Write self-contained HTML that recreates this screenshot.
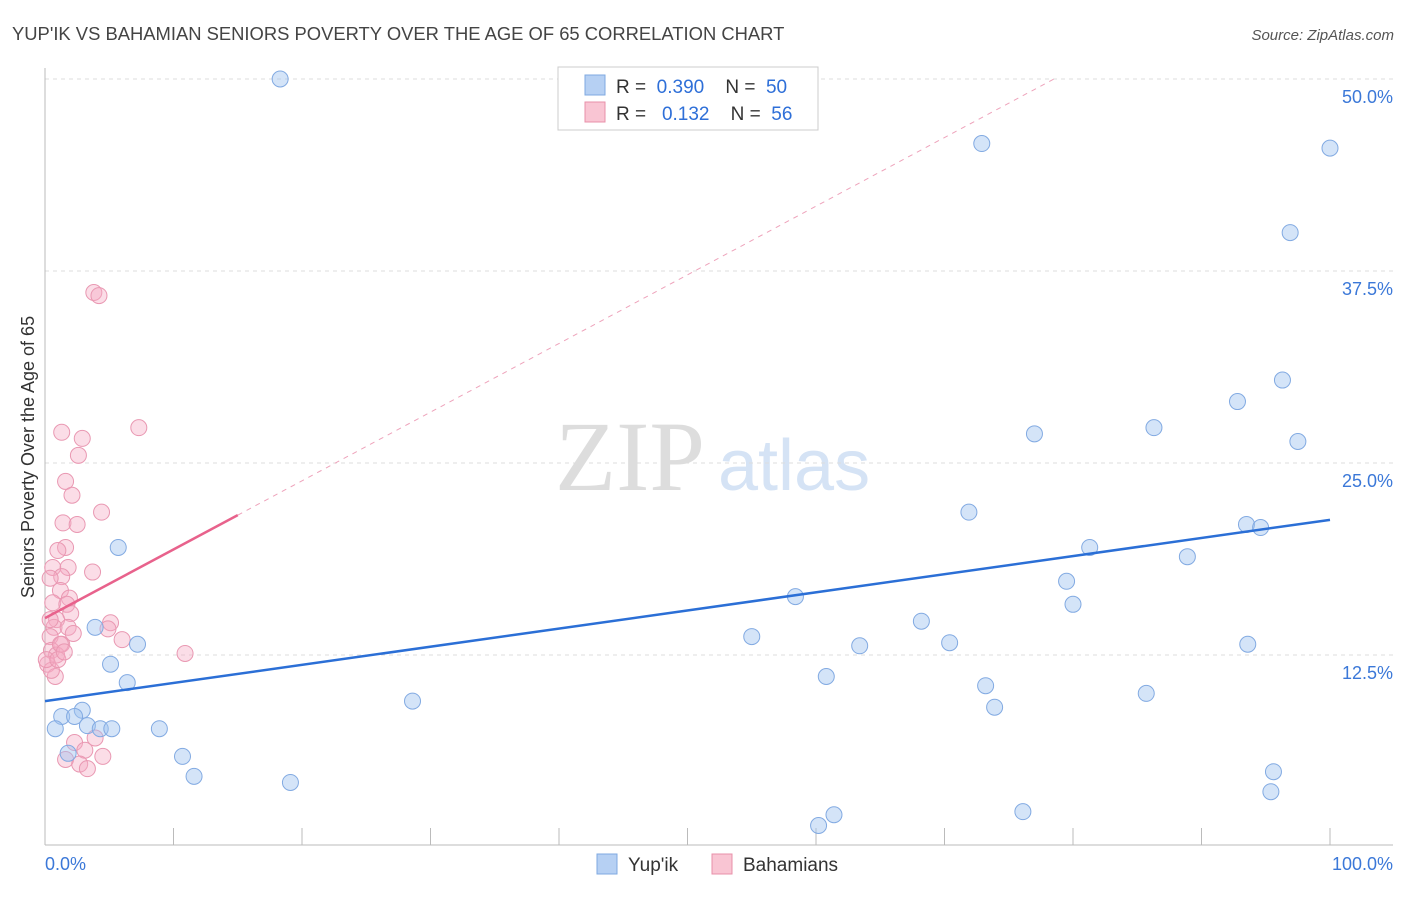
<!DOCTYPE html>
<html><head><meta charset="utf-8"><style>
body{margin:0;background:#fff;font-family:"Liberation Sans",sans-serif}
svg text{font-family:"Liberation Sans",sans-serif}
</style></head><body>
<svg id="c" width="1406" height="892">
<text x="12" y="40" font-size="18.4" fill="#444">YUP'IK VS BAHAMIAN SENIORS POVERTY OVER THE AGE OF 65 CORRELATION CHART</text>
<text x="1394" y="40" font-size="15" fill="#555" text-anchor="end" font-style="italic">Source: ZipAtlas.com</text>
<text x="555" y="490" font-size="100" fill="#ddd" style="font-family:'Liberation Serif',serif">ZIP</text>
<text x="718" y="490" font-size="72" fill="#d5e3f5">atlas</text>
<g id="grid"></g><g id="axes"></g><g id="marks"></g>
<text transform="translate(34,457) rotate(-90)" font-size="18" fill="#333" text-anchor="middle">Seniors Poverty Over the Age of 65</text>
<g>
<rect x="558" y="67" width="260" height="63" fill="#fff" stroke="#ccc"/>
<rect x="585" y="75" width="20" height="20" fill="#b6d0f3" stroke="#7fa9e0"/>
<rect x="585" y="102" width="20" height="20" fill="#f9c5d3" stroke="#e890aa"/>
<text x="616" y="93" font-size="19" fill="#333" xml:space="preserve">R =  <tspan fill="#2e6fd8">0.390</tspan>    N =  <tspan fill="#2e6fd8">50</tspan></text>
<text x="616" y="120" font-size="19" fill="#333" xml:space="preserve">R =   <tspan fill="#2e6fd8">0.132</tspan>    N =  <tspan fill="#2e6fd8">56</tspan></text>
</g>
<g>
<rect x="597" y="854" width="20" height="20" fill="#b6d0f3" stroke="#7fa9e0"/>
<text x="628" y="871" font-size="19" fill="#333">Yup'ik</text>
<rect x="712" y="854" width="20" height="20" fill="#f9c5d3" stroke="#e890aa"/>
<text x="743" y="871" font-size="19" fill="#333">Bahamians</text>
</g>
</svg>
<script>
const yTicks=[12.5,25,37.5,50];
const yTickLabels=["12.5%","25.0%","37.5%","50.0%"];
const xTickLabels=["0.0%","100.0%"];
const yupikX=[18.3,72.9,100,96.9,96.3,92.8,77.0,86.3,97.5,71.9,93.5,94.6,81.3,88.9,79.5,80.0,58.4,68.2,55.0,70.4,63.4,93.6,60.8,73.2,85.7,73.9,95.6,95.4,76.1,61.4,60.2,5.7,3.9,7.2,5.1,6.4,28.6,1.3,2.9,2.3,0.8,3.3,4.3,5.2,8.9,1.8,10.7,11.6,19.1];
const yupikY=[50.0,45.8,45.5,40.0,30.4,29.0,26.9,27.3,26.4,21.8,21.0,20.8,19.5,18.9,17.3,15.8,16.3,14.7,13.7,13.3,13.1,13.2,11.1,10.5,10.0,9.1,4.9,3.6,2.3,2.1,1.4,19.5,14.3,13.2,11.9,10.7,9.5,8.5,8.9,8.5,7.7,7.9,7.7,7.7,7.7,6.1,5.9,4.6,4.2];
const bahX=[3.8,4.2,7.3,1.3,2.9,2.6,1.6,2.1,4.4,1.4,2.5,1.6,1.0,0.6,1.8,3.7,1.3,0.4,1.2,1.9,0.6,1.7,2.0,5.1,0.9,0.7,1.8,4.9,6.0,2.2,0.4,1.3,0.5,0.9,10.9,0.2,0.8,0.5,1.2,2.3,3.9,3.1,4.5,1.6,2.7,3.3,0.1,1.0,1.5,0.4];
const bahY=[36.1,35.9,27.3,27.0,26.6,25.5,23.8,22.9,21.8,21.1,21.0,19.5,19.3,18.2,18.2,17.9,17.6,17.5,16.7,16.2,15.9,15.8,15.2,14.6,14.8,14.3,14.3,14.2,13.5,13.9,13.7,13.2,12.8,12.5,12.6,11.9,11.1,11.5,13.2,6.8,7.1,6.3,5.9,5.7,5.4,5.1,12.2,12.2,12.7,14.8];
const yupikTrend=[9.5,21.3];
const bahTrend=[14.9,0.447];
const X=v=>45+v*12.85, Y=v=>847-v*15.36;
const NS="http://www.w3.org/2000/svg";
function mk(p,t,a){const e=document.createElementNS(NS,t);for(const k in a)e.setAttribute(k,a[k]);p.appendChild(e);return e;}
const grid=document.getElementById('grid'),axes=document.getElementById('axes'),marks=document.getElementById('marks');
yTicks.forEach((t,i)=>{
 const l=mk(grid,'line',{x1:45,x2:1393,y1:Y(t),y2:Y(t),stroke:'#ddd','stroke-dasharray':'4,4'});
 
 
 const tx=mk(axes,'text',{x:1393,y:Y(t)+24,'font-size':18,fill:'#3b78d8','text-anchor':'end'});
 tx.textContent=yTickLabels[i];
 
 
});
mk(axes,'line',{x1:45,x2:45,y1:68,y2:845,stroke:'#bbb'});
mk(axes,'line',{x1:45,x2:1393,y1:845,y2:845,stroke:'#bbb'});
for(let i=0;i<=10;i++){const t=mk(axes,'line',{x1:X(i*10),x2:X(i*10),y1:828,y2:845,stroke:'#bbb'});
 
 }
[[45,'start'],[1393,'end']].forEach((p,i)=>{const t=mk(axes,'text',{x:p[0],y:870,'font-size':18,fill:'#3b78d8','text-anchor':p[1]});t.textContent=xTickLabels[i];
 
 });
bahX.forEach((x,i)=>{const c=mk(marks,'circle',{cx:X(x),cy:Y(bahY[i]),r:8,fill:'rgba(245,170,195,0.4)',stroke:'#e998b2','stroke-width':1});
 
 });
yupikX.forEach((x,i)=>{const c=mk(marks,'circle',{cx:X(x),cy:Y(yupikY[i]),r:8,fill:'rgba(160,195,240,0.45)',stroke:'#82aae2','stroke-width':1});
 
 });
const tl=mk(marks,'line',{x1:X(0),y1:Y(yupikTrend[0]),x2:X(100),y2:Y(yupikTrend[1]),stroke:'#2b6fd6','stroke-width':2.5});


const bEnd=(50-bahTrend[0])/bahTrend[1];
const bd=mk(marks,'line',{x1:X(15),y1:Y(bahTrend[0]+15*bahTrend[1]),x2:X(bEnd),y2:Y(50),stroke:'#eea3bb','stroke-width':1,'stroke-dasharray':'5,5'});


const bl=mk(marks,'line',{x1:X(0),y1:Y(bahTrend[0]),x2:X(15),y2:Y(bahTrend[0]+15*bahTrend[1]),stroke:'#e8628c','stroke-width':2.5});


</script>
</body></html>
